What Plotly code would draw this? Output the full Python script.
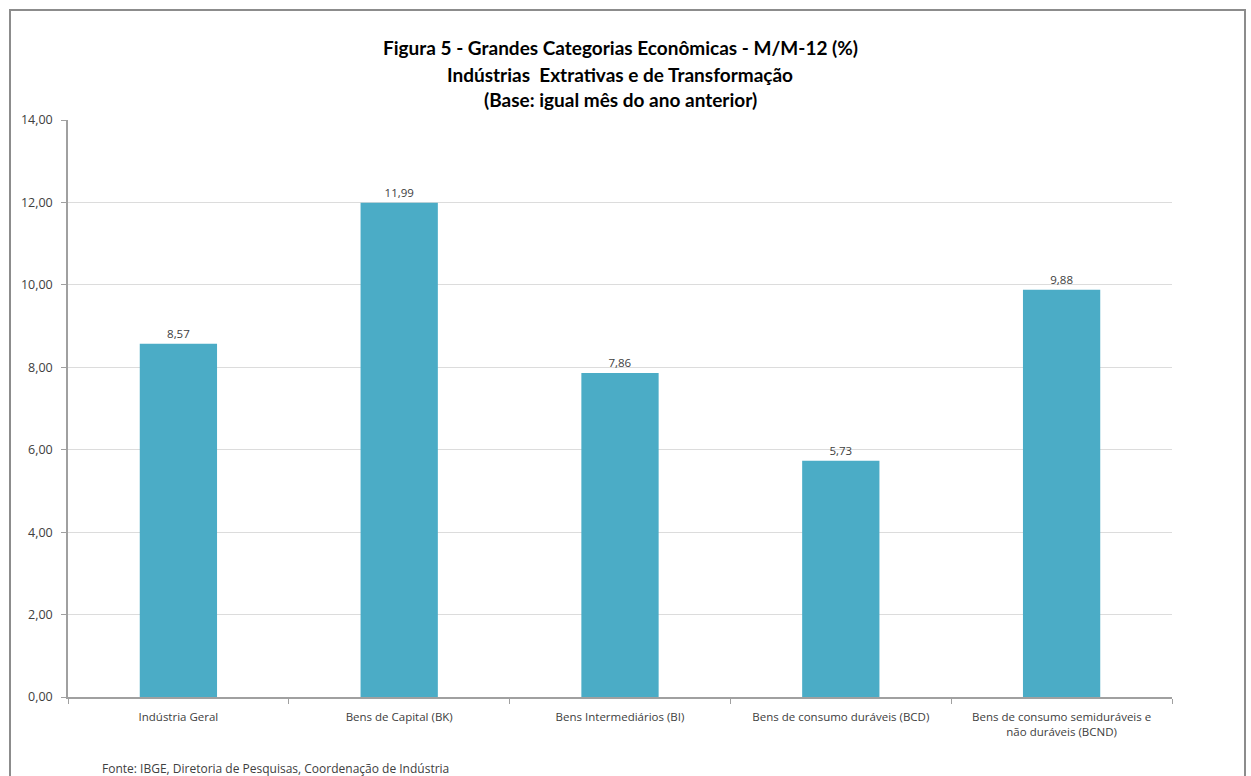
import plotly.graph_objects as go

categories = [
    "Indústria Geral",
    "Bens de Capital (BK)",
    "Bens Intermediários (BI)",
    "Bens de consumo duráveis (BCD)",
    "Bens de consumo semiduráveis e<br>não duráveis (BCND)",
]
values = [8.57, 11.99, 7.86, 5.73, 9.88]
y_ticks = [0, 2, 4, 6, 8, 10, 12, 14]
title_lines = [
    "Figura 5 - Grandes Categorias Econômicas - M/M-12 (%)",
    "Indústrias  Extrativas e de Transformação",
    "(Base: igual mês do ano anterior)",
]

W, H = 1251, 776
ML, MR, MT, MB = 68, 79, 120, 79
PH = H - MT - MB
PW = W - ML - MR


def py(pix):
    return (H - MB - pix) / PH


def px(pix):
    return (pix - ML) / PW


fig = go.Figure()
fig.add_trace(go.Bar(
    x=categories, y=values,
    marker=dict(color="#4BACC6", line=dict(width=0)),
    text=[f"{v:.2f}".replace(".", ",") for v in values],
    textposition="outside",
    textfont=dict(family="Open Sans, Lato, sans-serif", size=11.5, color="#404040"),
    cliponaxis=False,
))

fig.update_layout(
    width=W, height=H,
    margin=dict(l=ML, r=MR, t=MT, b=MB),
    paper_bgcolor="white", plot_bgcolor="white",
    separators=",.",
    bargap=0.65,
    showlegend=False,
    font=dict(family="Open Sans, Lato, sans-serif", size=11.5, color="#404040"),
)

for line, ypix in zip(title_lines, [48, 74, 99]):
    fig.add_annotation(
        text=f"<b>{line}</b>", xref="paper", yref="paper",
        x=px(620), y=py(ypix), xanchor="center", yanchor="middle", showarrow=False,
        font=dict(family="Lato, sans-serif", size=19, color="#000000"),
    )

fig.update_yaxes(
    range=[0, 14], tickvals=y_ticks, tickformat=".2f",
    showgrid=True, gridcolor="#dcdcdc", gridwidth=1,
    showline=True, linecolor="#a0a0a0", linewidth=1.5,
    ticks="outside", ticklen=5, tickcolor="#a0a0a0",
    tickfont=dict(size=12.5, color="#404040"),
    ticklabelstandoff=6,
    zeroline=False,
)
fig.update_xaxes(
    showline=True, linecolor="#a0a0a0", linewidth=1.5,
    ticks="outside", ticklen=5, tickcolor="#a0a0a0", tickson="boundaries",
    tickfont=dict(size=11.5, color="#404040"),
    ticklabelstandoff=8,
    showgrid=False,
)

fig.add_shape(type="rect", xref="paper", yref="paper",
              x0=px(10), x1=px(1245), y0=py(800), y1=py(10),
              line=dict(color="#8c8c8c", width=2), layer="below")

fig.add_annotation(
    text="Fonte: IBGE, Diretoria de Pesquisas, Coordenação de Indústria",
    xref="paper", yref="paper",
    x=px(100), y=py(768),
    xanchor="left", yanchor="middle", showarrow=False,
    font=dict(family="Open Sans, Lato, sans-serif", size=12, color="#404040"),
)

fig.write_html("out.html")
